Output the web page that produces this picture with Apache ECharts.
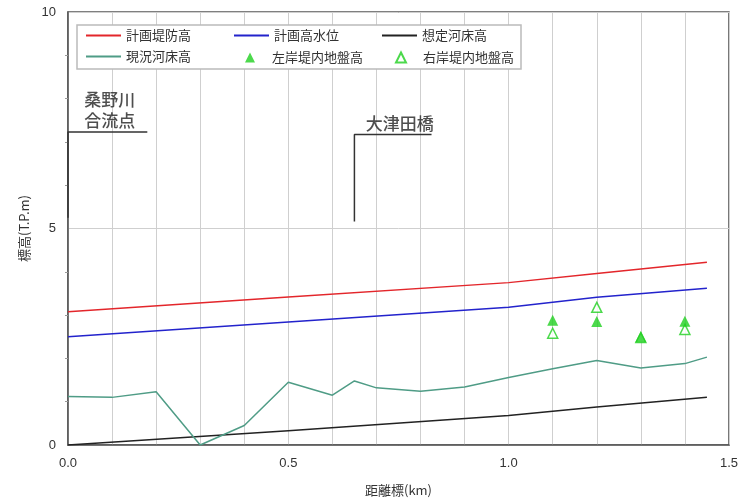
<!DOCTYPE html>
<html><head><meta charset="utf-8">
<script src="https://cdn.jsdelivr.net/npm/echarts@6/dist/echarts.min.js"></script>
<style>html,body{margin:0;padding:0;background:#fff}#c{width:741px;height:502px}</style>
</head><body><div id="c"></div>
<script>
// distance (km) and elevations (T.P.m)
const planX = [0, 0.5, 1.0, 1.2, 1.45];
const planLevee = [3.08, 3.42, 3.75, 3.96, 4.22];
const planHWL = [2.50, 2.84, 3.18, 3.41, 3.62];
const planBed = [0.00, 0.33, 0.68, 0.88, 1.10];
const bedX = [0, 0.1, 0.2, 0.3, 0.4, 0.5, 0.6, 0.65, 0.7, 0.8, 0.9, 1.0, 1.1, 1.2, 1.3, 1.4, 1.45];
const currentBed = [1.12, 1.10, 1.23, 0.00, 0.45, 1.45, 1.15, 1.48, 1.32, 1.24, 1.34, 1.56, 1.76, 1.95, 1.78, 1.88, 2.03];
const groundX = [1.1, 1.2, 1.3, 1.4];
const leftGround = [2.88, 2.85, 2.50, 2.86];
const rightGround = [2.58, 3.18, 2.48, 2.67];
// annotation leader lines and labels
const kuwanoLine = [[0.18, 7.23], [0, 7.23], [0, 5.25]];
const kuwanoLabel = [0.095, 7.74];
const ootsudaLine = [[0.825, 7.17], [0.65, 7.17], [0.65, 5.16]];
const ootsudaLabel = [0.753, 7.42];
const xTicks = [0, 0.5, 1.0, 1.5];
const yTicks = [0, 5, 10];

const JP = '"Noto Sans CJK JP", "Noto Sans", sans-serif';
const zip = (xs, ys) => xs.map((x, i) => [x, ys[i]]);

const chart = echarts.init(document.getElementById('c'));
function lgLine(name, left, top) {
  return {data: [name], left: left, top: top, padding: 0, icon: 'rect', itemWidth: 35, itemHeight: 2,
    itemGap: 0, z: 10, selectedMode: false,
    textStyle: {fontFamily: JP, fontSize: 13, color: '#333'}};
}
function lgTri(name, left, top) {
  return {data: [name], left: left, top: top, padding: 0, icon: 'triangle', itemWidth: 10, itemHeight: 10,
    itemGap: 0, z: 10, selectedMode: false,
    textStyle: {fontFamily: JP, fontSize: 13, color: '#333', padding: [0, 0, 0, 12]}};
}
chart.setOption({
  animation: false,
  backgroundColor: '#fff',
  grid: {left: 68, right: 11, top: 12, bottom: 56, show: true, borderColor: '#555', borderWidth: 1.5},
  xAxis: {
    type: 'value', min: 0, max: 1.5, interval: 0.5,
    name: '距離標(km)', nameLocation: 'middle', nameGap: 39,
    nameTextStyle: {fontFamily: JP, fontSize: 13, color: '#333'},
    axisLine: {lineStyle: {color: '#555', width: 1.5}},
    axisTick: {show: false},
    axisLabel: {margin: 12, fontFamily: 'Liberation Sans, Arial', fontSize: 13, color: '#333',
      formatter: v => xTicks.some(t => Math.abs(t - v) < 1e-9) ? v.toFixed(1) : ''},
    splitLine: {show: true, lineStyle: {color: '#cfcfcf', width: 1}},
    minorTick: {show: false, splitNumber: 5},
    minorSplitLine: {show: true, lineStyle: {color: '#cfcfcf', width: 1}}
  },
  yAxis: {
    type: 'value', min: 0, max: 10, interval: 5,
    name: '標高(T.P.m)', nameLocation: 'middle', nameGap: 31, nameRotate: 90,
    nameTextStyle: {fontFamily: JP, fontSize: 13, color: '#333'},
    axisLine: {lineStyle: {color: '#555', width: 1.5}},
    axisTick: {show: false},
    minorTick: {show: true, splitNumber: 5, length: 3, lineStyle: {color: '#999'}},
    axisLabel: {margin: 12, fontFamily: 'Liberation Sans, Arial', fontSize: 13, color: '#333',
      formatter: v => yTicks.includes(v) ? String(v) : ''},
    splitLine: {show: true, lineStyle: {color: '#cfcfcf', width: 1}}
  },
  legend: [
    lgLine('計画堤防高', 86, 29), lgLine('計画高水位', 234, 29), lgLine('想定河床高', 382, 29),
    lgLine('現況河床高', 86, 50), lgTri('左岸堤内地盤高', 245, 51), lgTri('右岸堤内地盤高', 395, 51)
  ],
  graphic: [{type: 'rect', z: 5, shape: {x: 77, y: 25, width: 444, height: 44},
    style: {fill: '#fff', stroke: '#bbb', lineWidth: 1.5}}],
  series: [
    {name: '計画堤防高', type: 'line', data: zip(planX, planLevee), symbol: 'none',
      lineStyle: {color: '#e3262b', width: 1.5}, itemStyle: {color: '#e3262b'}},
    {name: '計画高水位', type: 'line', data: zip(planX, planHWL), symbol: 'none',
      lineStyle: {color: '#2323cc', width: 1.5}, itemStyle: {color: '#2323cc'}},
    {name: '想定河床高', type: 'line', data: zip(planX, planBed), symbol: 'none',
      lineStyle: {color: '#222', width: 1.5}, itemStyle: {color: '#222'}},
    {name: '現況河床高', type: 'line', data: zip(bedX, currentBed), symbol: 'none',
      lineStyle: {color: '#4f9c86', width: 1.5}, itemStyle: {color: '#4f9c86'}},
    {name: '右岸堤内地盤高', type: 'scatter', data: zip(groundX, rightGround), symbol: 'triangle',
      symbolSize: 10, itemStyle: {color: '#fff', borderColor: '#1fd01f', borderWidth: 1.5}},
    {name: '左岸堤内地盤高', type: 'scatter', data: zip(groundX, leftGround), symbol: 'triangle',
      symbolSize: 11, itemStyle: {color: '#1fd01f'}},
    {type: 'line', data: kuwanoLine, symbol: 'none', silent: true,
      lineStyle: {color: '#333', width: 1.5}},
    {type: 'line', data: ootsudaLine, symbol: 'none', silent: true,
      lineStyle: {color: '#333', width: 1.5}},
    {type: 'scatter', data: [kuwanoLabel], symbolSize: 0, silent: true,
      label: {show: true, position: 'inside', formatter: '桑野川\n合流点', fontFamily: JP,
        fontSize: 17, fontWeight: 500, color: '#222', lineHeight: 21}},
    {type: 'scatter', data: [ootsudaLabel], symbolSize: 0, silent: true,
      label: {show: true, position: 'inside', formatter: '大津田橋', fontFamily: JP,
        fontSize: 17, fontWeight: 500, color: '#222'}}
  ]
});
</script></body></html>
